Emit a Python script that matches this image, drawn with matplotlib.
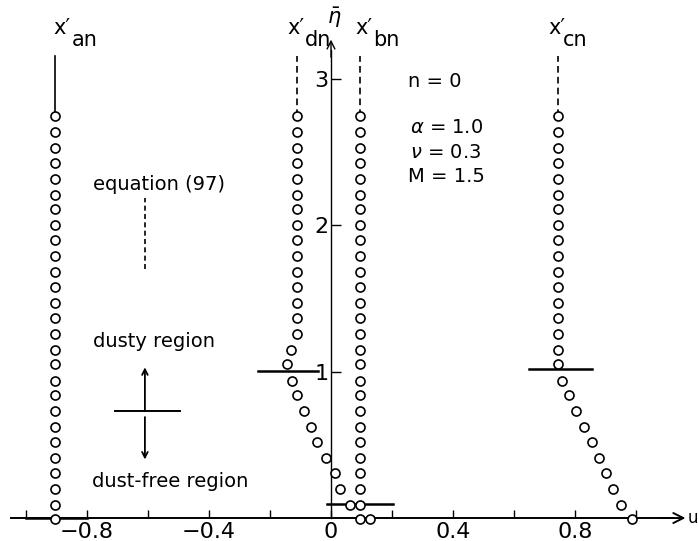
import numpy as np
import matplotlib
matplotlib.use("Agg")
import matplotlib.pyplot as plt

# normalised height of each computed station
eta = [-0.01, 0.09, 0.20, 0.31, 0.41, 0.52, 0.62, 0.73, 0.84, 0.94,
       1.05, 1.15, 1.26, 1.37, 1.47, 1.58, 1.68, 1.79, 1.90, 2.00,
       2.11, 2.21, 2.32, 2.43, 2.53, 2.64, 2.75]

# perturbation velocities (n = 0)
x_an = [-0.905] * 27
x_dn = [0.128, 0.062, 0.031, 0.012, -0.015, -0.047, -0.065, -0.087, -0.110,
        -0.128, -0.143, -0.130, -0.110] + [-0.113] * 14
x_bn = [0.095] * 27
x_cn = [0.986, 0.952, 0.926, 0.900, 0.879, 0.855, 0.830, 0.804, 0.779,
        0.757, 0.743] + [0.743] * 16

# dusty / dust-free boundary for each component
bar_eta = [0.0, 1.007, 0.094, 1.016]
bar_left = [-1.0, -0.238, -0.012, 0.650]
bar_right = [-0.8, -0.042, 0.204, 0.855]

# equation (97) continuation above the last station
top_eta = 3.16

xticks_major = [-0.8, -0.4, 0.0, 0.4, 0.8]
xticklabels = ["\u22120.8", "\u22120.4", "0", "0.4", "0.8"]
xticks_minor = [-1.0, -0.6, -0.2, 0.2, 0.6, 1.0]
yticks = [1, 2, 3]

fig = plt.figure(figsize=(6.98, 5.41), dpi=100)
ax = fig.add_axes([0, 0, 1, 1])
ax.set_xlim(-1.085, 1.203)
ax.set_ylim(-0.157, 3.541)
ax.patch.set_alpha(0)

for s in ["top", "right"]:
    ax.spines[s].set_visible(False)
ax.spines["left"].set_position(("data", 0))
ax.spines["bottom"].set_position(("data", 0))
ax.spines["left"].set_bounds(0, 3.2)
ax.spines["bottom"].set_bounds(-1.05, 1.12)
ax.spines["left"].set_linewidth(1.0)
ax.spines["bottom"].set_linewidth(1.4)

ax.set_xticks(xticks_major)
ax.set_xticklabels(xticklabels)
ax.set_xticks(xticks_minor, minor=True)
ax.set_yticks(yticks)
ax.tick_params(axis="x", which="both", direction="in", length=6, width=1,
               labelsize=16, pad=3)
ax.tick_params(axis="y", direction="in", length=7, width=1, labelsize=16, pad=2)

# axis arrows
ax.annotate("", xy=(1.162, 0), xytext=(1.08, 0),
            arrowprops=dict(arrowstyle="->", lw=1.4, color="black",
                            mutation_scale=18, shrinkA=0, shrinkB=0))
ax.annotate("", xy=(0, 3.27), xytext=(0, 3.15),
            arrowprops=dict(arrowstyle="->", lw=1.0, color="black",
                            mutation_scale=14, shrinkA=0, shrinkB=0))
ax.text(1.170, 0, "u", fontsize=12, ha="left", va="center")
ax.text(0.01, 3.42, r"$\bar{\eta}$", fontsize=15, ha="center", va="center")

mk = dict(ls="none", marker="o", ms=6.5, mfc="white", mec="black", mew=1.2,
          zorder=3)
for xs in [x_an, x_dn, x_bn, x_cn]:
    ax.plot(xs, eta, **mk)

# lines continuing each column upwards
ax.plot([x_an[-1], x_an[-1]], [eta[-1], top_eta], color="black", lw=1.2)
for xs in [x_dn, x_bn, x_cn]:
    ax.plot([xs[-1], xs[-1]], [eta[-1], top_eta], color="black", lw=1.2,
            ls=(0, (4, 2.5)))

for y, l, r in zip(bar_eta, bar_left, bar_right):
    ax.plot([l, r], [y, y], color="black", lw=1.8, zorder=2)

# column labels
lab = dict(fontsize=15, va="baseline", ha="left")
for xl, xs, name in [(-0.911, -0.849, "an"), (-0.144, -0.085, "dn"),
                     (0.079, 0.138, "bn"), (0.711, 0.761, "cn")]:
    ax.text(xl, 3.31, "x\u2032", **lab)
    ax.text(xs, 3.225, name, **lab)

# parameter block
ax.text(0.252, 2.946, "n = 0", fontsize=14, ha="left", va="baseline")
ax.text(0.258, 2.632, r"$\alpha$ = 1.0", fontsize=14, ha="left", va="baseline")
ax.text(0.258, 2.461, r"$\nu$ = 0.3", fontsize=14, ha="left", va="baseline")
ax.text(0.252, 2.297, "M = 1.5", fontsize=14, ha="left", va="baseline")

# region annotations
ax.text(-0.780, 2.245, "equation (97)", fontsize=14, ha="left", va="baseline")
ax.plot([-0.61, -0.61], [1.70, 2.19], color="black", lw=1.2, ls=(0, (3, 2)))
ax.text(-0.780, 1.17, "dusty region", fontsize=14, ha="left", va="baseline")
ax.text(-0.784, 0.212, "dust-free region", fontsize=14, ha="left",
        va="baseline")
ax.plot([-0.708, -0.495], [0.73, 0.73], color="black", lw=1.4)
ax.annotate("", xy=(-0.61, 1.03), xytext=(-0.61, 0.73),
            arrowprops=dict(arrowstyle="->", lw=1.3, color="black",
                            shrinkA=0, shrinkB=0))
ax.annotate("", xy=(-0.61, 0.40), xytext=(-0.61, 0.69),
            arrowprops=dict(arrowstyle="->", lw=1.3, color="black",
                            shrinkA=0, shrinkB=0))

fig.savefig("out.png", dpi=100)
